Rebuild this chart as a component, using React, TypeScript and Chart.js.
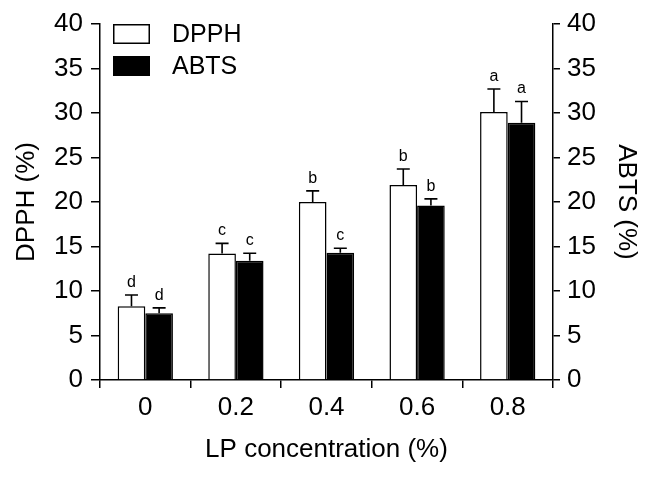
import React, { useEffect, useRef } from "react";
import { Chart, registerables } from "chart.js";

Chart.register(...registerables);

const categories = ["0", "0.2", "0.4", "0.6", "0.8"];
const dpphValues = [8.3, 14.2, 20.0, 21.9, 30.1];
const dpphErrors = [1.25, 1.15, 1.25, 1.8, 2.6];
const dpphLetters = ["d", "c", "b", "b", "a"];
const abtsValues = [7.5, 13.4, 14.3, 19.6, 28.9];
const abtsErrors = [0.6, 0.85, 0.5, 0.75, 2.4];
const abtsLetters = ["d", "c", "c", "b", "a"];
const yMin = 0;
const yMax = 40;
const yStep = 5;

const FONT = "'Liberation Sans', Arial, Helvetica, sans-serif";
const BIG = 26;

const errorBarPlugin = {
  id: "errorBars",
  afterDatasetsDraw(chart: any) {
    const ctx = chart.ctx;
    chart.data.datasets.forEach((ds: any, i: number) => {
      const meta = chart.getDatasetMeta(i);
      const scale = chart.scales[meta.yAxisID];
      meta.data.forEach((bar: any, j: number) => {
        const v = ds.data[j];
        const e = ds.errors[j];
        const yTop = scale.getPixelForValue(v + e);
        const yBar = scale.getPixelForValue(v);
        ctx.save();
        ctx.strokeStyle = "#000";
        ctx.lineWidth = 1.6;
        ctx.beginPath();
        ctx.moveTo(bar.x, yBar);
        ctx.lineTo(bar.x, yTop);
        ctx.moveTo(bar.x - 6.5, yTop);
        ctx.lineTo(bar.x + 6.5, yTop);
        ctx.stroke();
        ctx.fillStyle = "#000";
        ctx.font = `16px ${FONT}`;
        ctx.textAlign = "center";
        ctx.textBaseline = "alphabetic";
        ctx.fillText(ds.letters[j], bar.x, yTop - 8);
        ctx.restore();
      });
    });
  },
};

const legendPlugin = {
  id: "customLegend",
  afterDraw(chart: any) {
    const ctx = chart.ctx;
    const area = chart.chartArea;
    const x0 = area.left + 13;
    const y0 = area.top;
    chart.data.datasets.forEach((ds: any, i: number) => {
      const y = y0 + i * 32;
      ctx.save();
      ctx.fillStyle = ds.backgroundColor;
      ctx.strokeStyle = "#000";
      ctx.lineWidth = 1.5;
      ctx.fillRect(x0, y, 37, 20);
      ctx.strokeRect(x0 + 0.75, y + 0.75, 35.5, 18.5);
      ctx.fillStyle = "#000";
      ctx.font = `25px ${FONT}`;
      ctx.textAlign = "left";
      ctx.textBaseline = "middle";
      ctx.fillText(ds.label, x0 + 59, y + 11);
      ctx.restore();
    });
  },
};

export default function App() {
  const ref = useRef<HTMLCanvasElement>(null);

  useEffect(() => {
    if (!ref.current) return;
    const axisCommon = (
      position: string,
      title: string,
      width: number,
      tickLength: number,
      pad: number,
      titlePad: number
    ) => ({
      position,
      min: yMin,
      max: yMax,
      ticks: {
        stepSize: yStep,
        color: "#000",
        font: { size: BIG, family: FONT },
        padding: pad,
      },
      grid: {
        drawOnChartArea: false,
        drawTicks: true,
        tickLength,
        color: "#000",
        lineWidth: 1.5,
      },
      border: { display: true, color: "#000", width: 1.5 },
      title: {
        display: true,
        text: title,
        color: "#000",
        font: { size: BIG, family: FONT },
        padding: { top: titlePad, bottom: 0 },
      },
      afterFit: (s: any) => {
        s.width = width;
      },
    });

    const chart = new Chart(ref.current, {
      type: "bar",
      data: {
        labels: categories,
        datasets: [
          {
            label: "DPPH",
            data: dpphValues,
            errors: dpphErrors,
            letters: dpphLetters,
            backgroundColor: "#ffffff",
            borderColor: "#000000",
            borderWidth: 1.5,
            yAxisID: "y",
            categoryPercentage: 0.61,
            barPercentage: 1.0,
          } as any,
          {
            label: "ABTS",
            data: abtsValues,
            errors: abtsErrors,
            letters: abtsLetters,
            backgroundColor: "#000000",
            borderColor: "#000000",
            borderWidth: 1.5,
            yAxisID: "y1",
            categoryPercentage: 0.61,
            barPercentage: 1.0,
          } as any,
        ],
      },
      options: {
        responsive: false,
        animation: false,
        layout: { padding: { top: 24, left: 0, right: 0, bottom: 0 } },
        plugins: {
          legend: { display: false },
          tooltip: { enabled: false },
        },
        scales: {
          x: {
            ticks: {
              color: "#000",
              font: { size: BIG, family: FONT },
              padding: 4,
            },
            grid: {
              drawOnChartArea: false,
              drawTicks: true,
              tickLength: 8,
              color: "#000",
              lineWidth: 1.5,
              offset: true,
            },
            border: { display: true, color: "#000", width: 1.5 },
            title: {
              display: true,
              text: "LP concentration (%)",
              color: "#000",
              font: { size: BIG, family: FONT },
              padding: { top: 0, bottom: 16 },
            },
            afterFit: (s: any) => {
              s.height = 101;
            },
          },
          y: axisCommon("left", "DPPH (%)", 100, 9, 8, 11) as any,
          y1: axisCommon("right", "ABTS (%)", 101, 7, 7, 12) as any,
        },
      },
      plugins: [errorBarPlugin, legendPlugin],
    });
    return () => chart.destroy();
  }, []);

  return (
    <div style={{ position: "fixed", left: 0, top: 0, width: 654, height: 481, background: "#fff" }}>
      <canvas ref={ref} width={654} height={481} style={{ display: "block" }} />
    </div>
  );
}
